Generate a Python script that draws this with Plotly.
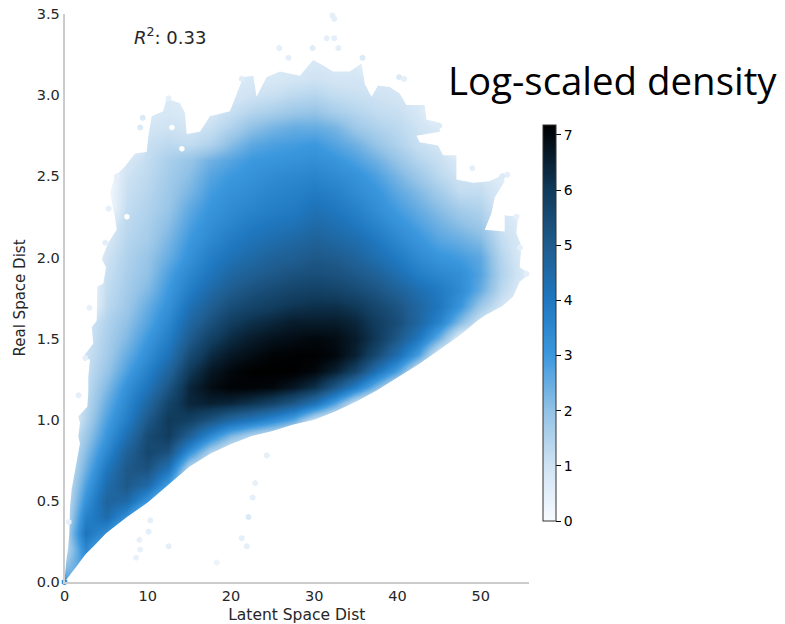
import plotly.graph_objects as go

x_centers = [0, 2.5, 5, 7.5, 10, 12.5, 15, 17.5, 20, 22.5, 25, 27.5, 30, 32.5, 35, 37.5, 40, 42.5, 45, 47.5, 50, 52.5, 55]
y_centers = [round(i / 10, 1) for i in range(35)]

# log-density, one list per x column, starting at y = 0.0, step 0.1
c00 = [3.2, 2, 1.2, 1.3, 1, 0.9, 0.8, 0.7, 0.6, 0.6]
c025 = [1, 3, 3.5, 4.1, 3.7, 3.2, 2.8, 2.4, 2.1, 1.8, 1.5, 1.3, 1.2, 1.1, 1, 0.9, 0.8]
c05 = [0, 1, 2, 3.3, 4.4, 4.7, 4.4, 4.0, 3.5, 3.1, 2.8, 2.5, 2.2, 1.9, 1.7, 1.6, 1.5, 1.3, 1.2, 1.1, 1, 0.8, 0.7]
c075 = [0, 0, 0, 1.5, 3.2, 4.5, 5.1, 5.1, 4.8, 4.3, 3.8, 3.5, 3.2, 2.8, 2.5, 2.2, 2, 1.8, 1.7, 1.6, 1.5, 1.4, 1.3, 1.2, 1.1, 1, 0.8]
c10 = [0, 0, 0, 0, 1, 3, 4.5, 5.3, 5.6, 5.5, 5.1, 4.6, 4.1, 3.7, 3.3, 3, 2.7, 2.5, 2.2, 2, 1.9, 1.7, 1.6, 1.5, 1.4, 1.3, 1.2, 1.1, 0.9, 0.7, 0.6]
c125 = [0, 0, 0, 0, 0, 1, 2.8, 4.2, 5.3, 5.9, 6, 5.7, 5.2, 4.7, 4.2, 3.8, 3.5, 3.2, 3, 2.8, 2.5, 2.3, 2.1, 1.9, 1.8, 1.7, 1.6, 1.3, 1, 0.8, 0.7]
c15 = [0, 0, 0, 0, 0, 0, 0.2, 1.3, 3.2, 4.8, 5.8, 6.4, 6.4, 6, 5.5, 5, 4.6, 4.2, 3.8, 3.5, 3.2, 3, 2.8, 2.6, 2.3, 2.1, 1.9, 1.2, 0.9, 0.7, 0.6]
c175 = [0, 0, 0, 0, 0, 0, 0, 0.3, 1.5, 3.4, 5.2, 6.5, 6.9, 6.7, 6.3, 5.8, 5.3, 4.9, 4.5, 4.1, 3.8, 3.5, 3.3, 3.1, 2.9, 2.7, 2.4, 1.5, 1.1, 0.8, 0.7]
c20 = [0, 0, 0, 0, 0, 0, 0, 0, 0.5, 2.2, 4.5, 6.4, 7.1, 7, 6.7, 6.3, 5.9, 5.4, 5, 4.6, 4.2, 3.9, 3.6, 3.4, 3.2, 3, 2.7, 2.1, 1.5, 1.1, 0.8, 0.7]
c225 = [0, 0, 0, 0, 0, 0, 0, 0, 0.2, 1.4, 4, 6.1, 7.1, 7.18, 6.9, 6.6, 6.2, 5.7, 5.3, 4.9, 4.5, 4.2, 3.9, 3.6, 3.4, 3.2, 3, 2.6, 2, 1.4, 1, 0.8, 0.7]
c25 = [0, 0, 0, 0, 0, 0, 0, 0, 0, 0.8, 3.4, 5.7, 7, 7.18, 7.1, 6.8, 6.4, 5.9, 5.5, 5.1, 4.8, 4.4, 4.1, 3.8, 3.6, 3.4, 3.1, 2.8, 2.3, 1.6, 1.1, 0.8, 0.7]
c275 = [0, 0, 0, 0, 0, 0, 0, 0, 0, 0.3, 2.6, 5.1, 6.7, 7.18, 7.15, 6.9, 6.6, 6.1, 5.7, 5.3, 4.9, 4.6, 4.2, 3.9, 3.7, 3.5, 3.2, 2.9, 2.5, 1.8, 1.3, 0.9, 0.7]
c30 = [0, 0, 0, 0, 0, 0, 0, 0, 0, 0, 1, 4.2, 6.2, 7, 7.15, 7, 6.6, 6.2, 5.8, 5.4, 5.1, 4.8, 4.5, 4.2, 3.9, 3.6, 3.3, 3, 2.5, 1.9, 1.4, 1, 0.8, 0.7]
c325 = [0, 0, 0, 0, 0, 0, 0, 0, 0, 0, 0.2, 2.7, 5.1, 6.5, 7, 6.9, 6.6, 6.2, 5.7, 5.3, 5, 4.6, 4.3, 4, 3.7, 3.4, 3.1, 2.7, 2.3, 1.6, 1.2, 0.9, 0.7, 0.6]
c35 = [0, 0, 0, 0, 0, 0, 0, 0, 0, 0, 0, 1, 3.8, 5.7, 6.5, 6.6, 6.4, 6, 5.5, 5.1, 4.7, 4.4, 4, 3.7, 3.4, 3.2, 2.8, 2.4, 1.8, 1.4, 1.1, 0.9, 0.7]
c375 = [0, 0, 0, 0, 0, 0, 0, 0, 0, 0, 0, 0, 2.2, 4.2, 5.5, 6, 5.9, 5.6, 5.2, 4.8, 4.3, 4, 3.6, 3.3, 3.1, 2.8, 2.4, 1.9, 1.5, 1.2, 1, 0.8]
c40 = [0, 0, 0, 0, 0, 0, 0, 0, 0, 0, 0, 0, 0.6, 2.8, 4.3, 5.1, 5.4, 5.2, 4.8, 4.3, 3.9, 3.5, 3.2, 2.9, 2.6, 2.3, 1.9, 1.5, 1.3, 1.1, 0.9, 0.7]
c425 = [0, 0, 0, 0, 0, 0, 0, 0, 0, 0, 0, 0, 0, 0.7, 2.8, 4, 4.6, 4.6, 4.3, 3.8, 3.4, 3.1, 2.8, 2.5, 2.2, 1.8, 1.4, 1.1, 1, 0.8, 0.7]
c45 = [0, 0, 0, 0, 0, 0, 0, 0, 0, 0, 0, 0, 0, 0, 0.5, 2.4, 3.6, 4, 3.9, 3.5, 3.1, 2.7, 2.4, 2.1, 1.7, 1.3, 1.1, 0.9, 0.7]
c475 = [0, 0, 0, 0, 0, 0, 0, 0, 0, 0, 0, 0, 0, 0, 0, 0.5, 2.2, 3.1, 3.4, 3.3, 2.9, 2.5, 2.1, 1.7, 1.2, 1, 0.7]
c50 = [0, 0, 0, 0, 0, 0, 0, 0, 0, 0, 0, 0, 0, 0, 0, 0, 0.9, 1.8, 2.5, 2.7, 2.6, 2.2, 1.8, 1.5, 1.2, 0.9, 0.7]
c525 = [0, 0, 0, 0, 0, 0, 0, 0, 0, 0, 0, 0, 0, 0, 0, 0, 0.3, 0.9, 1.3, 1.5, 1.4, 1.2, 1, 0.8, 0.7, 0.6]
c55 = [0, 0, 0, 0, 0, 0, 0, 0, 0, 0, 0, 0, 0, 0, 0, 0, 0, 0.4, 0.6, 0.8, 0.7, 0.7, 0.6, 0.5]
columns = [c00, c025, c05, c075, c10, c125, c15, c175, c20, c225, c25, c275, c30, c325, c35, c375, c40, c425, c45, c475, c50, c525, c55]

# outline of the cloud, read clockwise from the origin
outline_x = [0, 0.18, 0.46, 0.58, 0.66, 0.86, 1.14, 1.46, 1.86, 1.66, 1.86, 1.66, 2.74, 2.86, 2.86, 3.06, 2.26, 3.46, 3.27, 3.87,
             3.87, 3.94, 4.66, 4.98, 4.47, 5.26, 6.27, 6.06, 5.46, 6.06, 7.26, 8.46, 9.87, 10.06, 10.47, 11.86, 12.27, 13.87, 14.47, 14.67,
             16.27, 17.47, 19.87, 20.87, 21.47, 22.67, 23.07, 24.27, 25.87, 28.27, 29.87, 30.67, 32.27, 34.27, 35.68, 36.07, 36.88, 37.67, 39.07, 40.27,
             41.08, 43.28, 43.48, 45.08, 45.08, 42.28, 42.68, 44.88, 45.48, 47.08, 47.08, 49.08, 51.08, 52.68, 52.88, 51.68, 51.28, 50.48, 52.88, 52.88,
             54.48, 54.28, 54.88, 54.68, 55.88, 54.68, 53.9, 52.6, 50.6, 49.6,
             47.5, 45, 42.5, 40, 37.5, 35, 32.5, 30, 27.5, 25, 22.5, 20, 17.5, 15, 12.5, 10, 7.5, 5, 3.5, 2.5, 1.5, 0.8, 0]
outline_y = [0, 0.115, 0.22, 0.3, 0.46, 0.57, 0.65, 0.75, 0.855, 0.895, 0.98, 1.02, 1.08, 1.17, 1.265, 1.37, 1.39, 1.47, 1.57, 1.61,
             1.74, 1.82, 1.84, 1.94, 1.99, 2.09, 2.17, 2.25, 2.395, 2.5, 2.56, 2.64, 2.65, 2.74, 2.87, 2.9, 2.98, 2.95, 2.89, 2.76,
             2.775, 2.87, 2.9, 3.03, 3.11, 3.12, 2.99, 3.11, 3.145, 3.12, 3.216, 3.195, 3.145, 3.145, 3.195, 3.07, 2.99, 3.06, 3.05, 3.01,
             2.94, 2.94, 2.85, 2.83, 2.775, 2.75, 2.71, 2.69, 2.63, 2.63, 2.48, 2.46, 2.47, 2.51, 2.47, 2.37, 2.27, 2.17, 2.16, 2.26,
             2.25, 2.15, 2.07, 1.94, 1.9, 1.85, 1.76, 1.7, 1.645, 1.61,
             1.52, 1.43, 1.34, 1.26, 1.18, 1.11, 1.05, 1.0, 0.97, 0.93, 0.9, 0.85, 0.79, 0.71, 0.6, 0.49, 0.4, 0.3, 0.22, 0.17, 0.1, 0.05, 0]

# isolated hexagons, and empty hexagons inside the ragged rim
stray_x = [24.3, 22.9, 22.6, 22.1, 21.3, 21.9, 10.3, 10.1, 9, 9.1, 12.5, 8.6, 18.3,
           32.2, 32.4, 31.5, 32.4, 29.8, 32.9, 35.8, 40.2, 40.8, 45, 53.2, 55.5, 54.3, 54.7, 49, 52.6,
           25.8, 26.9, 21.3, 12.5, 9.4, 9.1, 6.3, 5.3, 4.9, 3, 2.5, 1.7, 0.5, 0]
stray_y = [0.78, 0.61, 0.52, 0.4, 0.27, 0.22, 0.38, 0.31, 0.26, 0.2, 0.22, 0.15, 0.12,
           3.49, 3.47, 3.35, 3.35, 3.29, 3.29, 3.23, 3.11, 3.1, 2.81, 2.51, 1.9, 2.25, 2.06, 2.55, 2.5,
           3.29, 3.23, 3.1, 2.98, 2.86, 2.8, 2.5, 2.3, 2.09, 1.69, 1.38, 1.15, 0.37, 0]
stray_v = [0.5, 0.4, 0.5, 0.7, 0.5, 0.5, 0.5, 0.5, 0.4, 0.4, 0.5, 0.4, 0.3,
           0.5, 0.5, 0.5, 0.5, 0.6, 0.5, 0.7, 0.7, 0.5, 0.7, 0.5, 0.5, 0.5, 0.5, 0.5, 0.7,
           0.5, 0.5, 0.6, 0.5, 0.7, 0.7, 0.5, 0.5, 0.5, 0.4, 0.5, 0.5, 0.4, 3.2]
hole_x = [12.9, 14.1, 7.5]
hole_y = [2.8, 2.67, 2.25]

cb_ticks = [0, 1, 2, 3, 4, 5, 6, 7]
x_ticks = [0, 10, 20, 30, 40, 50]
y_ticks = [0.0, 0.5, 1.0, 1.5, 2.0, 2.5, 3.0, 3.5]
z_max = 7.18
stops = [(0, "#f8fbff"), (1, "#cfe3f3"), (2, "#92c2e6"), (3, "#3c98de"), (4, "#1f78c0"),
         (5, "#1f5c8e"), (6, "#103a5a"), (7, "#02080d"), (z_max, "#000000")]
colorscale = [[v / z_max, c] for v, c in stops]

z = [[(c[i] if i < len(c) else 0) for c in columns] for i in range(len(y_centers))]

FONT = "DejaVu Sans"
W, H = 785, 624
x_range = [0, 55.8]
y_range = [0, 3.5]
fig = go.Figure()
fig.add_trace(go.Heatmap(
    x=x_centers, y=y_centers, z=z, zsmooth="best", zmin=0, zmax=z_max, colorscale=colorscale,
    hoverinfo="skip",
    colorbar=dict(x=543 / W, xanchor="left", y=(H - 521) / H, yanchor="bottom", len=396, lenmode="pixels",
                  thickness=13, thicknessmode="pixels", xpad=0, ypad=0, outlinecolor="#333333", outlinewidth=1,
                  tickvals=cb_ticks, ticks="outside", ticklen=5, tickcolor="#000000",
                  tickfont=dict(family=FONT, size=14, color="#000000")),
))
# white everywhere outside the outline: outer box, then the outline in the opposite sense
box_x = [0, x_range[1] + 1, x_range[1] + 1, 0, 0]
box_y = [0, 0, y_range[1] + 0.1, y_range[1] + 0.1, 0]
fig.add_trace(go.Scatter(x=box_x + outline_x, y=box_y + outline_y, mode="lines", fill="toself", fillcolor="#ffffff",
                         line=dict(width=0, color="#ffffff"), hoverinfo="skip", showlegend=False))
fig.add_trace(go.Scatter(x=hole_x, y=hole_y, mode="markers", hoverinfo="skip", showlegend=False,
                         marker=dict(symbol="hexagon", size=6, color="#ffffff", line=dict(width=0))))
fig.add_trace(go.Scatter(x=stray_x, y=stray_y, mode="markers", showlegend=False, cliponaxis=False,
                         marker=dict(symbol="hexagon", size=6.5, color=stray_v, cmin=0, cmax=z_max,
                                     colorscale=colorscale, showscale=False, line=dict(width=0))))

axis_common = dict(showgrid=False, zeroline=False, showline=True, linecolor="#cccccc", linewidth=1.5,
                   ticks="", tickfont=dict(family=FONT, size=14.5, color="#262626"))
fig.update_layout(
    width=W, height=H, margin=dict(l=0, r=0, t=0, b=0, autoexpand=False), paper_bgcolor="#ffffff", plot_bgcolor="#ffffff",
    showlegend=False,
    xaxis=dict(domain=[64.5 / W, 529 / W], range=x_range, tickvals=x_ticks,
               title=dict(text="Latent Space Dist", font=dict(family=FONT, size=15.5, color="#262626"), standoff=8),
               **axis_common),
    yaxis=dict(domain=[(H - 582) / H, (H - 14) / H], range=y_range, tickvals=y_ticks, tickformat=".1f",
               title=dict(text="Real Space Dist", font=dict(family=FONT, size=15, color="#262626"), standoff=8),
               **axis_common),
    annotations=[
        dict(text="<i>R</i><sup>2</sup>: 0.33", xref="paper", yref="paper", x=132 / W, y=(H - 36) / H,
             xanchor="left", yanchor="middle", showarrow=False, font=dict(family=FONT, size=18, color="#262626")),
        dict(text="Log-scaled density", xref="paper", yref="paper", x=446 / W, y=(H - 80) / H,
             xanchor="left", yanchor="middle", showarrow=False, font=dict(family="Open Sans", size=38.4, color="#000000")),
    ],
)
fig.write_html("out.html", config=dict(displayModeBar=False),
               post_script="document.body.style.margin='0';")
